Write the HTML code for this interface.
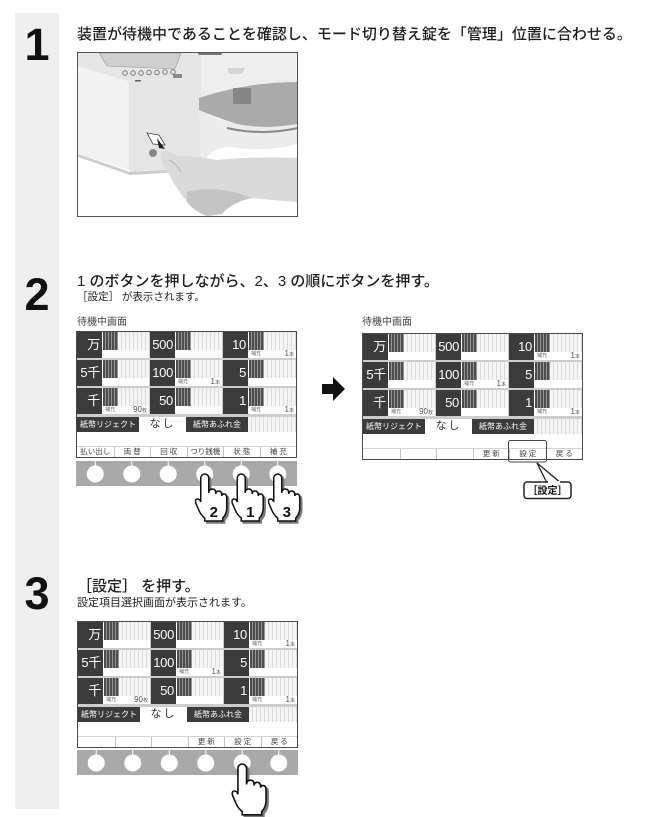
<!DOCTYPE html>
<html lang="ja"><head><meta charset="utf-8">
<style>
*{margin:0;padding:0}
body{width:664px;height:817px;position:relative;background:#fff;overflow:hidden;font-family:"Liberation Sans","Noto Sans CJK JP",sans-serif;}
.t{position:absolute;white-space:nowrap;line-height:1;color:#1e1e1e;font-family:"Liberation Sans","Noto Sans CJK JP",sans-serif;}
.num{position:absolute;left:15px;width:44px;text-align:center;font:bold 45px/45px "Liberation Sans",sans-serif;color:#111;}
.pn{position:absolute;box-sizing:border-box;width:221px;height:127px;border:1px solid #4a4a4a;background:#fff;}
.gr{position:absolute;left:0;top:0;width:219px;height:85px;background:#cdcdcd;}
.c{position:absolute;height:26px;background:#fff;}
.c .l{position:absolute;left:0;top:0;width:25px;height:26px;background:#3b3b3b;color:#fff;font-size:13px;line-height:26px;text-align:right;padding-right:2px;box-sizing:border-box;white-space:nowrap;letter-spacing:-0.3px}
.c .d{position:absolute;left:26px;top:0;width:15px;height:18px;background:repeating-linear-gradient(90deg,#4e4e4e 0 2px,#939393 2px 3px);}
.c .s{position:absolute;left:41px;top:0;right:0;height:18px;background:repeating-linear-gradient(90deg,#f5f5f5 0 3px,#dcdcdc 3px 4px);}
.c .h{position:absolute;left:28px;top:20px;font-size:5px;line-height:5px;color:#666;white-space:nowrap}
.c .n{position:absolute;right:2px;top:18px;font-size:8px;line-height:8px;color:#555;white-space:nowrap}
.c .n small{font-size:5px}
.r1,.r3{position:absolute;top:85px;height:15px;width:62px;background:#3b3b3b;color:#fff;font-size:8px;line-height:15px;text-align:center;white-space:nowrap}
.r1{left:0}.r3{left:109px}
.r2{position:absolute;top:85px;left:62px;width:47px;height:15px;background:#fff;color:#333;font-size:11px;line-height:15px;text-align:center;letter-spacing:2px}
.r4{position:absolute;top:85px;left:171px;width:48px;height:15px;background:repeating-linear-gradient(90deg,#f5f5f5 0 3px,#dcdcdc 3px 4px);}
.ln{position:absolute;left:0;top:114px;width:219px;height:1px;background:#d2d2d2}
.lb{position:absolute;top:115px;width:36.5px;height:10px;font-size:7.5px;line-height:10px;text-align:center;color:#444;border-left:1px solid #c4c4c4;box-sizing:border-box;white-space:nowrap}
.lb.f{border-left:none}
.bar{position:absolute;width:221px;height:25px;background:#a9a9a9}
</style></head><body>

<div style="position:absolute;left:15px;top:13px;width:44px;height:796px;background:#efefef"></div>

<!-- Step 1 -->
<div class="num" style="top:22px">1</div>
<div class="t" style="left:77px;top:27px;font-size:15px;font-weight:500">装置が待機中であることを確認し、モード切り替え錠を「管理」位置に合わせる。</div>

<svg style="position:absolute;left:77px;top:52px" width="221" height="165" viewBox="0 0 221 165">
<rect x="0" y="0" width="221" height="165" fill="#fff"/>
<polygon points="1,1 125,1 124,26 53,30 1,14" fill="#e6e6e6"/>
<polygon points="22,1 104,1 98,17 30,14" fill="#cfcfcf" stroke="#999" stroke-width="0.6"/>
<g fill="none" stroke="#666" stroke-width="0.8">
<circle cx="48" cy="21" r="2.3"/><circle cx="56" cy="21" r="2.3"/><circle cx="64" cy="21" r="2.3"/><circle cx="72" cy="20.5" r="2.3"/><circle cx="80" cy="20.5" r="2.3"/><circle cx="88" cy="20" r="2.3"/><circle cx="96" cy="20" r="2.3"/>
</g>
<rect x="96" y="22" width="9" height="4" fill="#888"/>
<rect x="58" y="28" width="6" height="7" fill="#666"/>
<polygon points="1,14 53,30 53,118 1,102" fill="#f2f2f2"/>
<line x1="53" y1="30" x2="53" y2="118" stroke="#d0d0d0" stroke-width="1"/>
<polygon points="53,30 124,26 124,116 53,120" fill="#e6e6e6"/>
<polygon points="124,1 221,1 221,30 124,46" fill="#eeeeee"/>
<polygon points="120,0 146,0 144,3 122,3" fill="#777"/>
<polygon points="150,16 168,16 165,22 152,22" fill="#d6d6d6"/>
<path d="M122,46 Q170,30 221,30 L221,72 Q185,78 160,72 Q135,64 122,58 Z" fill="#aaaaaa"/>
<rect x="156" y="36" width="18" height="16" fill="#858585"/>
<path d="M122,58 Q135,66 160,72 Q190,78 221,72 L221,92 Q190,100 160,96 Q135,92 128,110 L124,116 Z" fill="#ececec"/>
<path d="M150,76 Q185,84 221,76" fill="none" stroke="#888" stroke-width="2"/>
<polygon points="1,102 53,120 124,116 124,119 53,123 1,105" fill="#cdcdcd"/>
<polygon points="70,81 82,83 88,93 76,92" fill="#fff" stroke="#444" stroke-width="0.8"/>
<polygon points="80,86 88,97 82,96" fill="#222"/>
<circle cx="76" cy="101" r="4" fill="#888"/>
<path d="M84,100 Q92,98 100,104 Q120,104 140,108 Q180,104 221,106 L221,150 Q195,148 175,146 Q155,150 145,162 L130,164 Q118,160 110,150 Q98,135 92,122 Q84,112 84,100 Z" fill="#dadada"/>
<path d="M110,140 Q140,132 175,146 Q155,150 145,162 L130,164 Q118,160 110,150 Z" fill="#c4c4c4"/>
<path d="M92,108 Q100,112 104,120" fill="none" stroke="#aaa" stroke-width="0.8"/>
<rect x="0.5" y="0.5" width="220" height="164" fill="none" stroke="#555"/>
</svg>

<!-- Step 2 -->
<div class="num" style="top:272px">2</div>
<div class="t" style="left:77px;top:274px;font-size:15px;font-weight:500">1 のボタンを押しながら、2、3 の順にボタンを押す。</div>
<div class="t" style="left:77px;top:292px;font-size:10.5px">［設定］ が表示されます。</div>
<div class="t" style="left:77px;top:318px;font-size:10px;color:#444">待機中画面</div>
<div class="t" style="left:362px;top:318px;font-size:10px;color:#444">待機中画面</div>

<!-- Panel A -->
<div class="pn" style="left:76px;top:331px">
<div class="gr"></div>
<div class="c" style="left:0;top:0;width:72px"><div class="l">万</div><div class="d"></div><div class="s"></div></div>
<div class="c" style="left:73px;top:0;width:72px"><div class="l">500</div><div class="d"></div><div class="s"></div></div>
<div class="c" style="left:146px;top:0;width:73px"><div class="l">10</div><div class="d"></div><div class="s"></div><div class="h">補充</div><div class="n">1<small>本</small></div></div>
<div class="c" style="left:0;top:28px;width:72px"><div class="l">5千</div><div class="d"></div><div class="s"></div></div>
<div class="c" style="left:73px;top:28px;width:72px"><div class="l">100</div><div class="d"></div><div class="s"></div><div class="h">補充</div><div class="n">1<small>本</small></div></div>
<div class="c" style="left:146px;top:28px;width:73px"><div class="l">5</div><div class="d"></div><div class="s"></div></div>
<div class="c" style="left:0;top:56px;width:72px"><div class="l">千</div><div class="d"></div><div class="s"></div><div class="h">補充</div><div class="n">90<small>枚</small></div></div>
<div class="c" style="left:73px;top:56px;width:72px"><div class="l">50</div><div class="d"></div><div class="s"></div></div>
<div class="c" style="left:146px;top:56px;width:73px"><div class="l">1</div><div class="d"></div><div class="s"></div><div class="h">補充</div><div class="n">1<small>本</small></div></div>
<div class="r1">紙幣リジェクト</div><div class="r2">なし</div><div class="r3">紙幣あふれ金</div><div class="r4"></div>
<div class="ln"></div>
<div class="lb f" style="left:0">払い出し</div>
<div class="lb" style="left:36.5px">両 替</div>
<div class="lb" style="left:73px">回 収</div>
<div class="lb" style="left:109.5px">つり銭機</div>
<div class="lb" style="left:146px">状 態</div>
<div class="lb" style="left:182.5px">補 充</div>
</div>
<div class="bar" style="left:76px;top:461px"></div>

<!-- Panel B -->
<div class="pn" style="left:362px;top:333px">
<div class="gr"></div>
<div class="c" style="left:0;top:0;width:72px"><div class="l">万</div><div class="d"></div><div class="s"></div></div>
<div class="c" style="left:73px;top:0;width:72px"><div class="l">500</div><div class="d"></div><div class="s"></div></div>
<div class="c" style="left:146px;top:0;width:73px"><div class="l">10</div><div class="d"></div><div class="s"></div><div class="h">補充</div><div class="n">1<small>本</small></div></div>
<div class="c" style="left:0;top:28px;width:72px"><div class="l">5千</div><div class="d"></div><div class="s"></div></div>
<div class="c" style="left:73px;top:28px;width:72px"><div class="l">100</div><div class="d"></div><div class="s"></div><div class="h">補充</div><div class="n">1<small>本</small></div></div>
<div class="c" style="left:146px;top:28px;width:73px"><div class="l">5</div><div class="d"></div><div class="s"></div></div>
<div class="c" style="left:0;top:56px;width:72px"><div class="l">千</div><div class="d"></div><div class="s"></div><div class="h">補充</div><div class="n">90<small>枚</small></div></div>
<div class="c" style="left:73px;top:56px;width:72px"><div class="l">50</div><div class="d"></div><div class="s"></div></div>
<div class="c" style="left:146px;top:56px;width:73px"><div class="l">1</div><div class="d"></div><div class="s"></div><div class="h">補充</div><div class="n">1<small>本</small></div></div>
<div class="r1">紙幣リジェクト</div><div class="r2">なし</div><div class="r3">紙幣あふれ金</div><div class="r4"></div>
<div class="ln"></div>
<div class="lb f" style="left:0"></div>
<div class="lb" style="left:36.5px"></div>
<div class="lb" style="left:73px"></div>
<div class="lb" style="left:109.5px">更 新</div>
<div class="lb" style="left:146px">設 定</div>
<div class="lb" style="left:182.5px">戻 る</div>
</div>

<!-- Step 3 -->
<div class="num" style="top:571px">3</div>
<div class="t" style="left:77px;top:579px;font-size:15px;font-weight:500">［設定］ を押す。</div>
<div class="t" style="left:77px;top:598px;font-size:11px">設定項目選択画面が表示されます。</div>

<div class="pn" style="left:77px;top:621px">
<div class="gr"></div>
<div class="c" style="left:0;top:0;width:72px"><div class="l">万</div><div class="d"></div><div class="s"></div></div>
<div class="c" style="left:73px;top:0;width:72px"><div class="l">500</div><div class="d"></div><div class="s"></div></div>
<div class="c" style="left:146px;top:0;width:73px"><div class="l">10</div><div class="d"></div><div class="s"></div><div class="h">補充</div><div class="n">1<small>本</small></div></div>
<div class="c" style="left:0;top:28px;width:72px"><div class="l">5千</div><div class="d"></div><div class="s"></div></div>
<div class="c" style="left:73px;top:28px;width:72px"><div class="l">100</div><div class="d"></div><div class="s"></div><div class="h">補充</div><div class="n">1<small>本</small></div></div>
<div class="c" style="left:146px;top:28px;width:73px"><div class="l">5</div><div class="d"></div><div class="s"></div></div>
<div class="c" style="left:0;top:56px;width:72px"><div class="l">千</div><div class="d"></div><div class="s"></div><div class="h">補充</div><div class="n">90<small>枚</small></div></div>
<div class="c" style="left:73px;top:56px;width:72px"><div class="l">50</div><div class="d"></div><div class="s"></div></div>
<div class="c" style="left:146px;top:56px;width:73px"><div class="l">1</div><div class="d"></div><div class="s"></div><div class="h">補充</div><div class="n">1<small>本</small></div></div>
<div class="r1">紙幣リジェクト</div><div class="r2">なし</div><div class="r3">紙幣あふれ金</div><div class="r4"></div>
<div class="ln"></div>
<div class="lb f" style="left:0"></div>
<div class="lb" style="left:36.5px"></div>
<div class="lb" style="left:73px"></div>
<div class="lb" style="left:109.5px">更 新</div>
<div class="lb" style="left:146px">設 定</div>
<div class="lb" style="left:182.5px">戻 る</div>
</div>
<div class="bar" style="left:77px;top:750px"></div>

<!-- Overlay: buttons, hands, arrow, callout -->
<svg style="position:absolute;left:0;top:0" width="664" height="817" viewBox="0 0 664 817">
<defs>
<path id="hand" d="M-4,4 A4,4 0 0 1 4,4 L4,19 Q4,15 7.5,15 Q11,15 11,19 L11,20 Q11,17 14,17 Q17,17 17,21 L17,22 Q17,20 19.5,20 Q22,20 22,24 L22,34 Q22,40 18,44 L18,47 L0,47 L0,44 Q-4,41 -6,36 L-9,29 Q-10,25 -7,25 Q-5,25 -4,28 Z"/>
</defs>
<g fill="#fff" stroke="#fff" stroke-width="1">
<line x1="95.25" y1="461" x2="95.25" y2="467"/><circle cx="95.25" cy="474" r="8"/>
<line x1="131.75" y1="461" x2="131.75" y2="467"/><circle cx="131.75" cy="474" r="8"/>
<line x1="168.25" y1="461" x2="168.25" y2="467"/><circle cx="168.25" cy="474" r="8"/>
<line x1="204.75" y1="461" x2="204.75" y2="467"/><circle cx="204.75" cy="474" r="8"/>
<line x1="241.25" y1="461" x2="241.25" y2="467"/><circle cx="241.25" cy="474" r="8"/>
<line x1="277.75" y1="461" x2="277.75" y2="467"/><circle cx="277.75" cy="474" r="8"/>
</g>
<g fill="#fff" stroke="#fff" stroke-width="1">
<line x1="96.25" y1="750" x2="96.25" y2="756"/><circle cx="96.25" cy="763" r="8"/>
<line x1="132.75" y1="750" x2="132.75" y2="756"/><circle cx="132.75" cy="763" r="8"/>
<line x1="169.25" y1="750" x2="169.25" y2="756"/><circle cx="169.25" cy="763" r="8"/>
<line x1="205.75" y1="750" x2="205.75" y2="756"/><circle cx="205.75" cy="763" r="8"/>
<line x1="242.25" y1="750" x2="242.25" y2="756"/><circle cx="242.25" cy="763" r="8"/>
<line x1="278.75" y1="750" x2="278.75" y2="756"/><circle cx="278.75" cy="763" r="8"/>
</g>
<g transform="translate(204.75,474)">
<use href="#hand" transform="translate(2,2)" fill="#7a7a7a" stroke="#7a7a7a" stroke-width="1.5"/>
<use href="#hand" fill="#fff" stroke="#111" stroke-width="1.5"/>
<text x="9" y="43" font-family="Liberation Sans,sans-serif" font-size="15" font-weight="bold" text-anchor="middle" fill="#111">2</text>
</g>
<g transform="translate(241.25,474)">
<use href="#hand" transform="translate(2,2)" fill="#7a7a7a" stroke="#7a7a7a" stroke-width="1.5"/>
<use href="#hand" fill="#fff" stroke="#111" stroke-width="1.5"/>
<text x="9" y="43" font-family="Liberation Sans,sans-serif" font-size="15" font-weight="bold" text-anchor="middle" fill="#111">1</text>
</g>
<g transform="translate(277.75,474)">
<use href="#hand" transform="translate(2,2)" fill="#7a7a7a" stroke="#7a7a7a" stroke-width="1.5"/>
<use href="#hand" fill="#fff" stroke="#111" stroke-width="1.5"/>
<text x="9" y="43" font-family="Liberation Sans,sans-serif" font-size="15" font-weight="bold" text-anchor="middle" fill="#111">3</text>
</g>
<g transform="translate(242.25,764) scale(1.08)">
<use href="#hand" transform="translate(2,2)" fill="#7a7a7a" stroke="#7a7a7a" stroke-width="1.5"/>
<use href="#hand" fill="#fff" stroke="#111" stroke-width="1.5"/>
</g>
<polygon points="322,384 333,384 333,377 345,389 333,401 333,394 322,394" fill="#111"/>
<rect x="508.5" y="440.5" width="38" height="21.5" rx="2" fill="none" stroke="#444" stroke-width="1"/>
<polygon points="547,483 537,463 561,483" fill="#fff" stroke="#222" stroke-width="1.3"/>
<rect x="524" y="482" width="47" height="16.5" rx="3" fill="#fff" stroke="#222" stroke-width="1.5"/>
<line x1="548" y1="482" x2="560" y2="482" stroke="#fff" stroke-width="2"/>
<text x="547.5" y="494" font-family="Liberation Sans,Noto Sans CJK JP,sans-serif" font-size="10" font-weight="bold" text-anchor="middle" fill="#111">［設定］</text>
</svg>

</body></html>
